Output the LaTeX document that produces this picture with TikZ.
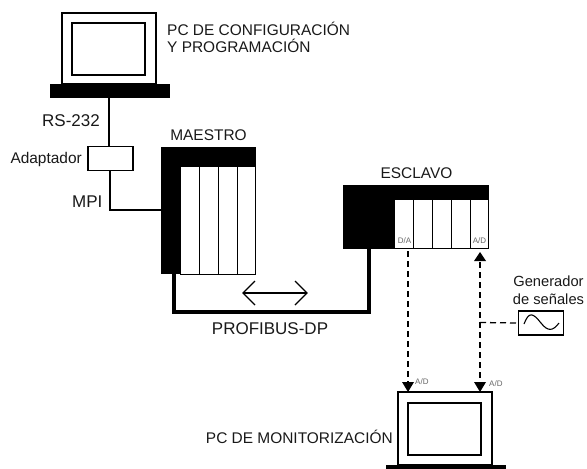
\documentclass[tikz,border=0pt]{standalone}
\usepackage{fontspec}
\setmainfont{Liberation Sans}
\tikzset{
 lab/.style={inner sep=0pt,font=\fontsize{15.45}{17.5}\selectfont,align=left,text=black!90},
 big/.style={font=\fontsize{17}{19}\selectfont},
 tiny/.style={inner sep=0pt,font=\fontsize{8}{9}\selectfont,text=black!60},
 box/.style={draw,line width=1.4pt,fill=white,inner sep=0pt},
 slot/.style={draw,line width=1pt,fill=white},
 sig/.style={line width=1.3pt,dash pattern=on 6pt off 4pt}
}
\begin{document}
\begin{tikzpicture}[x=1pt,y=-1pt]
\useasboundingbox (0,0) rectangle (587,469);
% top PC
\draw[box] (62,13) rectangle (156,84);
\draw[box] (72,23) rectangle (145,75);
\fill (50,84) rectangle (170,98);
\coordinate (pcbase) at (109,98);
\node[box,minimum width=45pt,minimum height=24pt] (adapt) at (110.5,158.5) {};
\draw[line width=1.9pt] (pcbase) -- (109,147);
\coordinate (mpiturn) at (110,210);
\coordinate (mpiend) at (161,210);
\draw[line width=1.9pt] (110,170) -- (mpiturn) -- (mpiend);
\node[lab,anchor=west] at (167,37.5) {PC DE CONFIGURACIÓN\\Y PROGRAMACIÓN};
\node[lab,big,anchor=west] at (42,121) {RS-232};
\node[lab,anchor=east] at (82,160) {Adaptador};
\node[lab,big,anchor=west] at (72,202) {MPI};
% maestro
\fill (161,147) rectangle (256,274);
\foreach \a/\b in {180/199,199/218,218/237,237/255.5}{\draw[slot] (\a,166) rectangle (\b,274);}
\node[lab,anchor=center] at (208.5,135) {MAESTRO};
% esclavo
\fill (343,185) rectangle (489,249);
\foreach \a/\b in {394/413,413/432,432/451,451/470,470/488}{\draw[slot] (\a,199) rectangle (\b,248);}
\node[lab,anchor=center] at (416.5,173) {ESCLAVO};
\node[tiny,anchor=center] at (404.5,241) {D/A};
\node[tiny,anchor=center] at (479.5,241) {A/D};
% bus
\draw[line width=4pt,line join=miter] (174,274) -- (174,312) -- (369,312) -- (369,249);
\draw[line width=1.3pt] (243,293) -- (307,293);
\draw[line width=1.3pt] (255,281) -- (243,293) -- (255,305);
\draw[line width=1.3pt] (295,281) -- (307,293) -- (295,305);
\node[lab,big,anchor=center] at (270,329) {PROFIBUS-DP};
% bottom PC
\draw[box] (398,392) rectangle (492,465);
\draw[box] (408,403) rectangle (481,455);
\fill (386,465) rectangle (506,469);
\node[lab,anchor=east] at (393,437) {PC DE MONITORIZACIÓN};
\node[tiny,anchor=west] at (415,382) {A/D};
\node[tiny,anchor=west] at (489,383.5) {A/D};
% signals
\draw[sig] (408,251) -- (408,384);
\draw[sig] (480,262) -- (480,384);
\fill (408,392) -- (402,382) -- (414,382) -- cycle;
\fill (480,392) -- (474,382) -- (486,382) -- cycle;
\fill (480,252) -- (474,261) -- (486,261) -- cycle;
% generator
\node[box,minimum width=45pt,minimum height=24pt] (gen) at (541,323) {};
\draw[sig] (480,322.5) -- (gen.west);
\draw[line width=1.1pt] (524,324) .. controls (529,311) and (533,313) .. (541,323) .. controls (548,332) and (553,331) .. (559,323);
\node[lab,anchor=center,align=center,font=\fontsize{14.7}{17.5}\selectfont] at (548.5,290) {Generador\\de señales};
\end{tikzpicture}
\end{document}
